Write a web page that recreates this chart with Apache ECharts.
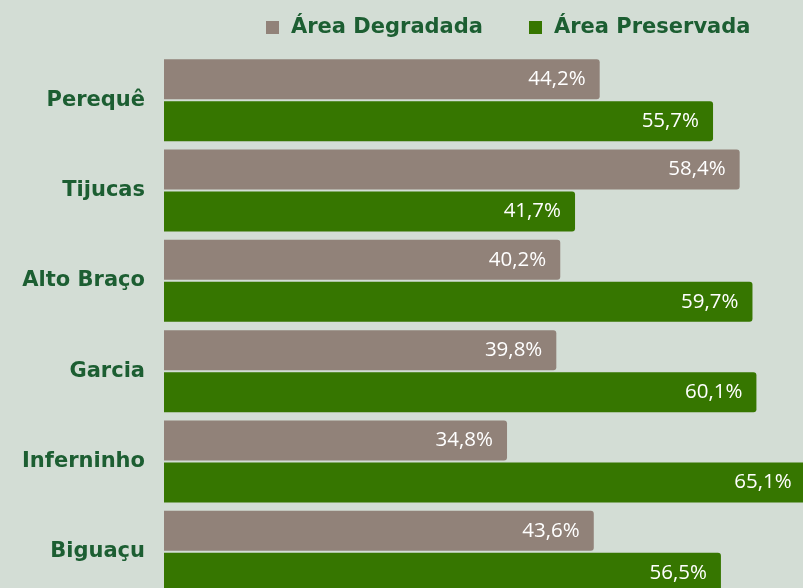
<!DOCTYPE html>
<html>
<head>
<meta charset="UTF-8">
<title>areas</title>
<script src="https://cdn.jsdelivr.net/npm/echarts@6/dist/echarts.min.js"></script>
<style>
	html, body { margin: 0; padding: 0; background: #d3ddd5; }
	#main { width: 803px; height: 588px; }
</style>
</head>
<body>
<div id="main"></div>
<script>
	// dados
	var bacias = ['Perequê', 'Tijucas', 'Alto Braço', 'Garcia', 'Inferninho', 'Biguaçu'];
	var degradada = [44.2, 58.4, 40.2, 39.8, 34.8, 43.6];
	var preservada = [55.7, 41.7, 59.7, 60.1, 65.1, 56.5];

	var verdeTexto = '#1c5e32';
	var chart = echarts.init(document.getElementById('main'));

	function rotulo(p) {
		return p.value.toFixed(1).replace('.', ',') + '%';
	}

	var label = {
		show: true,
		position: 'insideRight',
		distance: 14,
		color: '#ffffff',
		fontSize: 20.5,
		fontFamily: 'Open Sans',
		formatter: rotulo
	};

	chart.setOption({
		backgroundColor: '#d3ddd5',
		animation: false,
		legend: {
			top: 12,
			left: 261,
			itemWidth: 13,
			itemHeight: 13,
			itemGap: 46,
			icon: 'rect',
			textStyle: { color: verdeTexto, fontSize: 21, fontWeight: 'bold', fontFamily: 'DejaVu Sans', padding: [0, 0, 0, 7] },
			data: ['Área Degradada', 'Área Preservada']
		},
		grid: { left: 164, top: 55, width: 690, height: 542, containLabel: false, outerBoundsMode: 'none' },
		xAxis: {
			type: 'value',
			min: 0,
			max: 70,
			show: false
		},
		yAxis: {
			type: 'category',
			inverse: true,
			data: bacias,
			axisLine: { show: false },
			axisTick: { show: false },
			axisLabel: { color: verdeTexto, fontSize: 21, fontWeight: 'bold', fontFamily: 'DejaVu Sans', margin: 19 }
		},
		series: [{
			name: 'Área Degradada',
			type: 'bar',
			data: degradada,
			barWidth: 40,
			barGap: '5%',
			itemStyle: { color: '#918279', borderRadius: [0, 3, 3, 0] },
			label: label
		}, {
			name: 'Área Preservada',
			type: 'bar',
			data: preservada,
			barWidth: 40,
			itemStyle: { color: '#367600', borderRadius: [0, 3, 3, 0] },
			label: label
		}]
	});
</script>
</body>
</html>
